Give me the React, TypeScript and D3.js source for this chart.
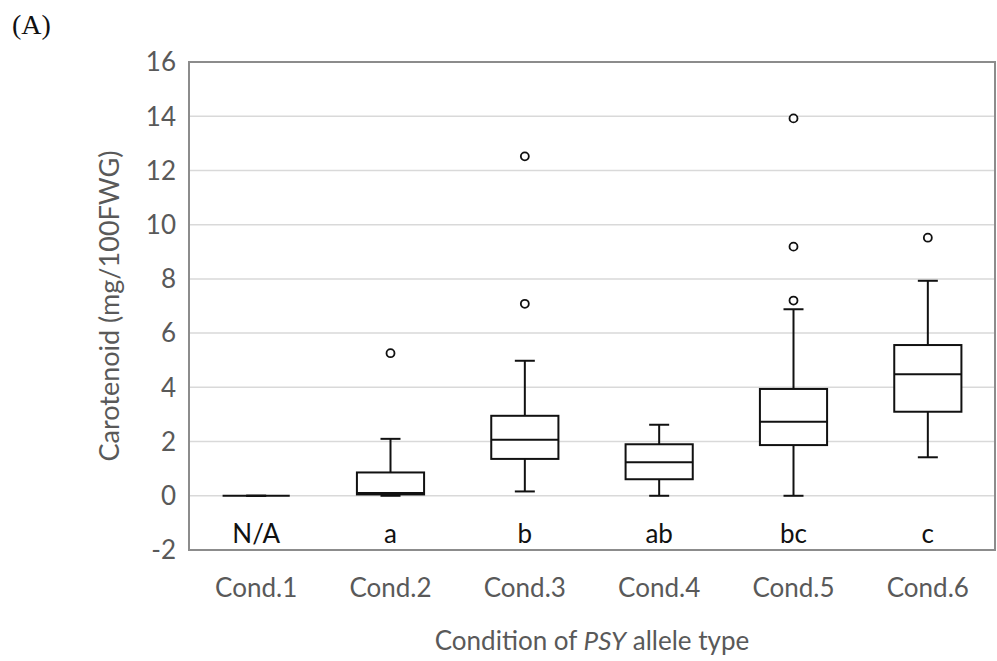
import React from "react";
import * as d3 from "d3";

const categories = ["Cond.1", "Cond.2", "Cond.3", "Cond.4", "Cond.5", "Cond.6"];
const letters = ["N/A", "a", "b", "ab", "bc", "c"];
const whiskerLow = [0, 0, 0.16, 0, 0, 1.42];
const q1 = [0, 0.05, 1.36, 0.61, 1.87, 3.1];
const median = [0, 0.1, 2.07, 1.24, 2.73, 4.48];
const q3 = [0, 0.86, 2.95, 1.9, 3.94, 5.56];
const whiskerHigh = [0, 2.1, 4.98, 2.62, 6.88, 7.93];
const outliers = [[], [5.26], [7.08, 12.52], [], [7.2, 9.19, 13.92], [9.52]];
const yTicks = [-2, 0, 2, 4, 6, 8, 10, 12, 14, 16];

const W = 997;
const H = 661;
const margin = { top: 62, right: 2, bottom: 111, left: 189 };
const font = "Lato, 'Open Sans', sans-serif";

const App = () => {
  const x = d3.scaleBand()
    .domain(categories)
    .range([margin.left, W - margin.right])
    .paddingInner(0.5)
    .paddingOuter(0.25);
  const y = d3.scaleLinear()
    .domain([-2, 16])
    .range([H - margin.bottom, margin.top]);

  const bw = x.bandwidth();
  const cap = 10;

  return (
    <svg width={W} height={H} style={{ position: "absolute", left: 0, top: 0, background: "#fff" }}>
      <text x={12} y={34} fontFamily="'Liberation Serif', 'DejaVu Serif', serif" fontSize={28} fill="#111">(A)</text>

      {/* grid */}
      {yTicks.map((t) => (
        <line key={"g" + t} x1={margin.left} x2={W - margin.right} y1={y(t)} y2={y(t)} stroke="#d9d9d9" strokeWidth={1.5} />
      ))}
      {yTicks.map((t) => (
        <text key={"t" + t} x={176} y={y(t)} dy="0.36em" textAnchor="end" fontFamily={font} fontSize={26} fill="#595959">{t}</text>
      ))}

      {/* boxes */}
      {categories.map((c, i) => {
        const cx = x(c)! + bw / 2;
        const x0 = x(c)!;
        return (
          <g key={c} stroke="#111" strokeWidth={2} fill="none">
            <line x1={cx} x2={cx} y1={y(whiskerHigh[i])} y2={y(q3[i])} />
            <line x1={cx} x2={cx} y1={y(q1[i])} y2={y(whiskerLow[i])} />
            <line x1={cx - cap} x2={cx + cap} y1={y(whiskerHigh[i])} y2={y(whiskerHigh[i])} />
            <line x1={cx - cap} x2={cx + cap} y1={y(whiskerLow[i])} y2={y(whiskerLow[i])} />
            <rect x={x0} y={y(q3[i])} width={bw} height={y(q1[i]) - y(q3[i])} fill="#fff" />
            <line x1={x0} x2={x0 + bw} y1={y(median[i])} y2={y(median[i])} />
            {outliers[i].map((o, j) => (
              <circle key={j} cx={cx} cy={y(o)} r={4} strokeWidth={1.8} fill="#fff" />
            ))}
            <text x={cx} y={543} textAnchor="middle" stroke="none" fill="#111" fontFamily={font} fontSize={26}>{letters[i]}</text>
          </g>
        );
      })}

      {/* frame */}
      <rect x={margin.left} y={margin.top} width={W - margin.right - margin.left} height={H - margin.bottom - margin.top} fill="none" stroke="#8c8c8c" strokeWidth={2} />

      {/* x labels */}
      {categories.map((c) => (
        <text key={"x" + c} x={x(c)! + bw / 2} y={597} textAnchor="middle" fontFamily={font} fontSize={26} fill="#595959">{c}</text>
      ))}
      <text x={(margin.left + W - margin.right) / 2} y={650} textAnchor="middle" fontFamily={font} fontSize={26} fill="#595959">
        Condition of <tspan fontStyle="italic">PSY</tspan> allele type
      </text>
      <text transform={`translate(119, ${(margin.top + H - margin.bottom) / 2}) rotate(-90)`} textAnchor="middle" fontFamily={font} fontSize={27} fill="#595959">
        Carotenoid (mg/100FWG)
      </text>
    </svg>
  );
};

export default App;
